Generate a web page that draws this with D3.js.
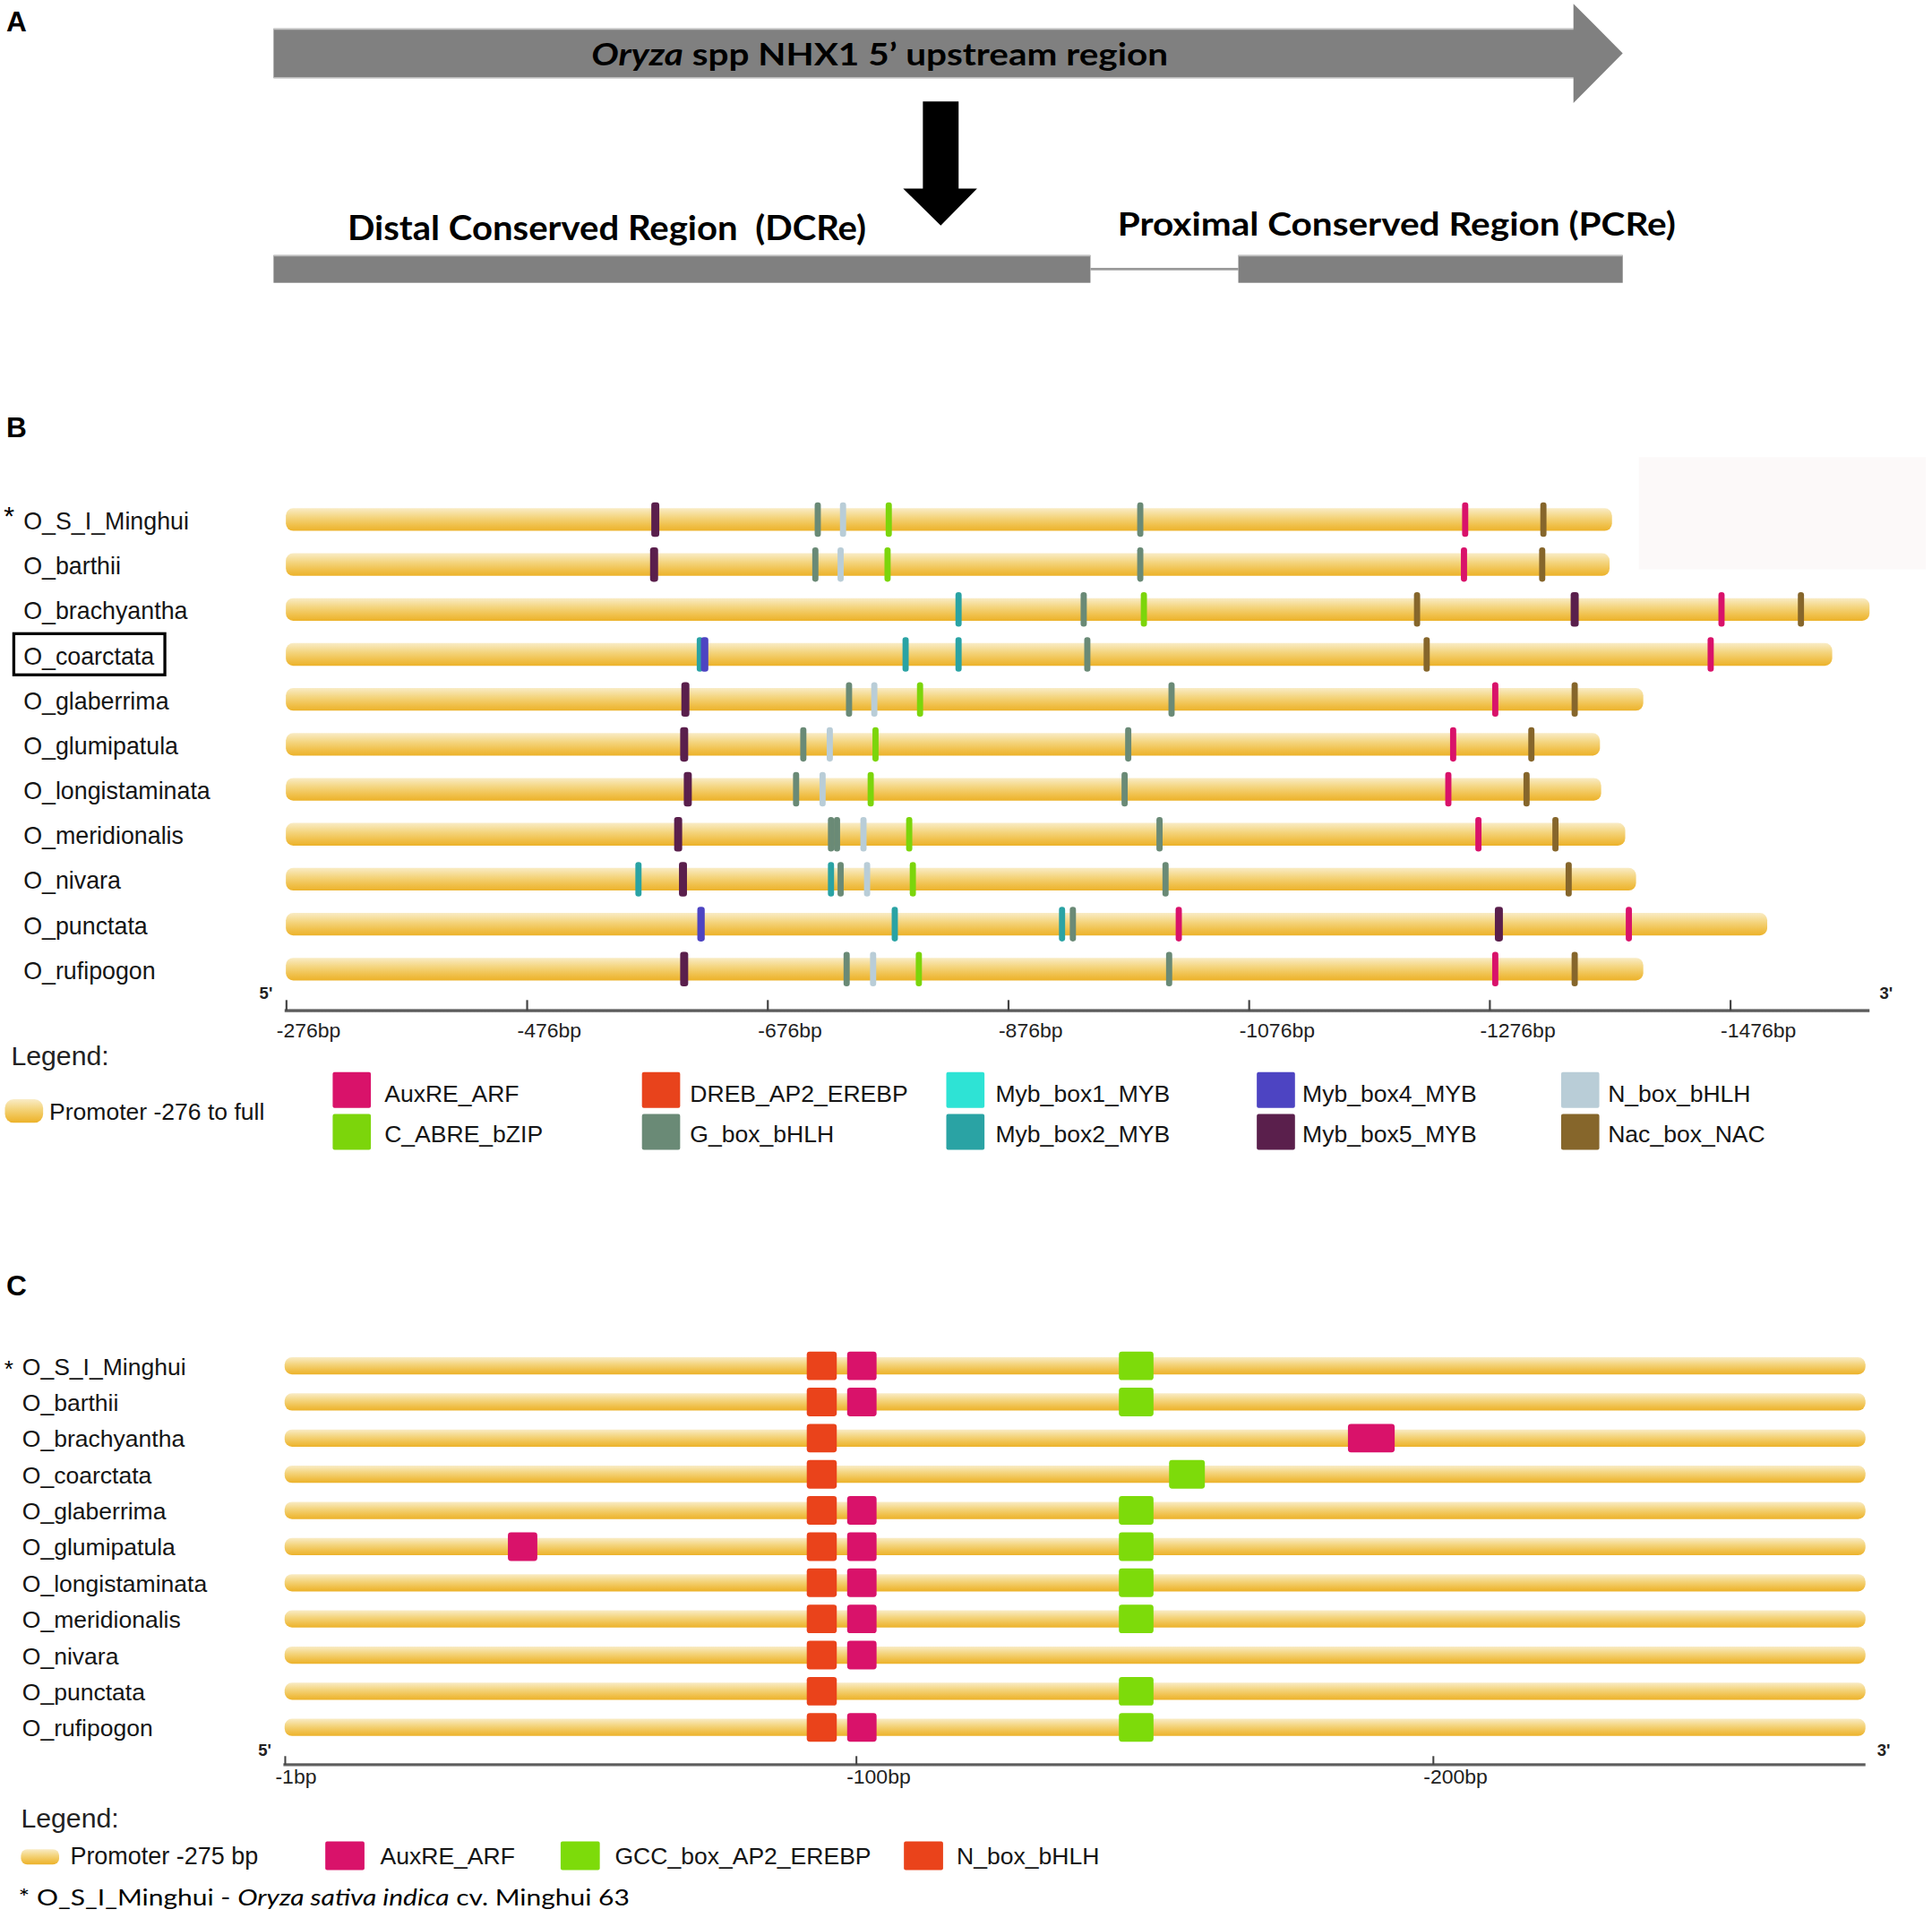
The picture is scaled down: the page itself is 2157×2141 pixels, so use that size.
<!DOCTYPE html>
<html><head><meta charset="utf-8">
<script src="https://cdn.jsdelivr.net/npm/d3@7"></script>
<style>body{margin:0;background:#fff}svg{display:block}</style>
</head><body><svg id="c"></svg>
<script>
// ---------------- DATA ----------------
const species = ["O_S_I_Minghui","O_barthii","O_brachyantha","O_coarctata","O_glaberrima","O_glumipatula","O_longistaminata","O_meridionalis","O_nivara","O_punctata","O_rufipogon"];
// Panel B: promoter end positions (bp upstream, start -276)
const promoterStartB = 276;
const promoterEndB = [1378,1376,1592,1561,1404,1368,1369,1389,1398,1507,1404];
const axisEndB = 1592;
const ticksB = [276,476,676,876,1076,1276,1476];
const motifsB = ["AuxRE_ARF","C_ABRE_bZIP","DREB_AP2_EREBP","G_box_bHLH","Myb_box1_MYB","Myb_box2_MYB","Myb_box4_MYB","Myb_box5_MYB","N_box_bHLH","Nac_box_NAC"];
// [species index, motif, position bp]
const sitesB = [
 [0,"Myb_box5_MYB",583],[0,"G_box_bHLH",718],[0,"N_box_bHLH",739],[0,"C_ABRE_bZIP",777],[0,"G_box_bHLH",986],[0,"AuxRE_ARF",1256],[0,"Nac_box_NAC",1321],
 [1,"Myb_box5_MYB",582],[1,"G_box_bHLH",716],[1,"N_box_bHLH",737],[1,"C_ABRE_bZIP",776],[1,"G_box_bHLH",986],[1,"AuxRE_ARF",1255],[1,"Nac_box_NAC",1320],
 [2,"Myb_box2_MYB",835],[2,"G_box_bHLH",939],[2,"C_ABRE_bZIP",989],[2,"Nac_box_NAC",1216],[2,"Myb_box5_MYB",1347],[2,"AuxRE_ARF",1469],[2,"Nac_box_NAC",1535],
 [3,"Myb_box2_MYB",620],[3,"Myb_box4_MYB",624],[3,"Myb_box2_MYB",791],[3,"Myb_box2_MYB",835],[3,"G_box_bHLH",942],[3,"Nac_box_NAC",1224],[3,"AuxRE_ARF",1460],
 [4,"Myb_box5_MYB",608],[4,"G_box_bHLH",744],[4,"N_box_bHLH",765],[4,"C_ABRE_bZIP",803],[4,"G_box_bHLH",1012],[4,"AuxRE_ARF",1281],[4,"Nac_box_NAC",1347],
 [5,"Myb_box5_MYB",607],[5,"G_box_bHLH",706],[5,"N_box_bHLH",728],[5,"C_ABRE_bZIP",766],[5,"G_box_bHLH",976],[5,"AuxRE_ARF",1246],[5,"Nac_box_NAC",1311],
 [6,"Myb_box5_MYB",610],[6,"G_box_bHLH",700],[6,"N_box_bHLH",722],[6,"C_ABRE_bZIP",762],[6,"G_box_bHLH",973],[6,"AuxRE_ARF",1242],[6,"Nac_box_NAC",1307],
 [7,"Myb_box5_MYB",602],[7,"G_box_bHLH",729],[7,"G_box_bHLH",734],[7,"N_box_bHLH",756],[7,"C_ABRE_bZIP",794],[7,"G_box_bHLH",1002],[7,"AuxRE_ARF",1267],[7,"Nac_box_NAC",1331],
 [8,"Myb_box2_MYB",569],[8,"Myb_box5_MYB",606],[8,"Myb_box2_MYB",729],[8,"G_box_bHLH",737],[8,"N_box_bHLH",759],[8,"C_ABRE_bZIP",797],[8,"G_box_bHLH",1007],[8,"Nac_box_NAC",1342],
 [9,"Myb_box4_MYB",621],[9,"Myb_box2_MYB",782],[9,"Myb_box2_MYB",921],[9,"G_box_bHLH",930],[9,"AuxRE_ARF",1018],[9,"Myb_box5_MYB",1284],[9,"AuxRE_ARF",1392],
 [10,"Myb_box5_MYB",607],[10,"G_box_bHLH",742],[10,"N_box_bHLH",764],[10,"C_ABRE_bZIP",802],[10,"G_box_bHLH",1010],[10,"AuxRE_ARF",1281],[10,"Nac_box_NAC",1347]
];
// Panel C: promoter -275 bp
const promoterLenC = 275;
const ticksC = [1,100,200];
const motifsC = ["AuxRE_ARF","GCC_box_AP2_EREBP","N_box_bHLH"];
// [species index, motif, start bp, end bp]
const sitesC = [
 [0,"N_box_bHLH",91.5,96.7],[0,"AuxRE_ARF",98.5,103.6],[0,"GCC_box_AP2_EREBP",145.6,151.6],
 [1,"N_box_bHLH",91.5,96.7],[1,"AuxRE_ARF",98.5,103.6],[1,"GCC_box_AP2_EREBP",145.6,151.6],
 [2,"N_box_bHLH",91.5,96.7],[2,"AuxRE_ARF",185.3,193.4],
 [3,"N_box_bHLH",91.5,96.7],[3,"GCC_box_AP2_EREBP",154.3,160.5],
 [4,"N_box_bHLH",91.5,96.7],[4,"AuxRE_ARF",98.5,103.6],[4,"GCC_box_AP2_EREBP",145.6,151.6],
 [5,"AuxRE_ARF",39.7,44.8],[5,"N_box_bHLH",91.5,96.7],[5,"AuxRE_ARF",98.5,103.6],[5,"GCC_box_AP2_EREBP",145.6,151.6],
 [6,"N_box_bHLH",91.5,96.7],[6,"AuxRE_ARF",98.5,103.6],[6,"GCC_box_AP2_EREBP",145.6,151.6],
 [7,"N_box_bHLH",91.5,96.7],[7,"AuxRE_ARF",98.5,103.6],[7,"GCC_box_AP2_EREBP",145.6,151.6],
 [8,"N_box_bHLH",91.5,96.7],[8,"AuxRE_ARF",98.5,103.6],
 [9,"N_box_bHLH",91.5,96.7],[9,"GCC_box_AP2_EREBP",145.6,151.6],
 [10,"N_box_bHLH",91.5,96.7],[10,"AuxRE_ARF",98.5,103.6],[10,"GCC_box_AP2_EREBP",145.6,151.6]
];

// ---------------- STYLE ----------------
const colors = {
  AuxRE_ARF:"#d9126a", C_ABRE_bZIP:"#7cd50b", DREB_AP2_EREBP:"#e8431c", G_box_bHLH:"#6a8a76",
  Myb_box1_MYB:"#2ee3d5", Myb_box2_MYB:"#2aa3a4", Myb_box4_MYB:"#4d44c2", Myb_box5_MYB:"#5a1f4c",
  N_box_bHLH:"#b9cdd7", Nac_box_NAC:"#86662b", GCC_box_AP2_EREBP:"#7ddb0a", N_box_bHLH_C:"#ea431b"
};
const widthB = {Myb_box5_MYB:6.5, Myb_box4_MYB:6};
const SANS = "'Liberation Sans', Arial, sans-serif";
const CAL = "Lato, 'Open Sans', sans-serif";

const W = 1568, H = 2141*1568/2157;
const svg = d3.select("#c").attr("width",2157).attr("height",2141).attr("viewBox",`0 0 ${W} ${H}`);
svg.append("rect").attr("width",W).attr("height",H).attr("fill","#fff");

const defs = svg.append("defs");
const gr = defs.append("linearGradient").attr("id","prom").attr("x1",0).attr("y1",0).attr("x2",0).attr("y2",1);
[[0,"#f9ecc6"],[0.4,"#f4d57f"],[0.75,"#f0c04a"],[1,"#ecb22a"]].forEach(s=>gr.append("stop").attr("offset",s[0]).attr("stop-color",s[1]));
const ag = defs.append("linearGradient").attr("id","axg").attr("x1",0).attr("y1",0).attr("x2",0).attr("y2",1);
[[0,"#8a8a8a"],[0.5,"#4a4a4a"],[1,"#9a9a9a"]].forEach(s=>ag.append("stop").attr("offset",s[0]).attr("stop-color",s[1]));

function fitWidth(sel, target){
  const bb = sel.node().getBBox();
  const s = target/bb.width, x0 = bb.x;
  sel.attr("transform",`translate(${x0},0) scale(${s},1) translate(${-x0},0)`);
}

// ---------------- PANEL LETTERS ----------------
[["A",25.5],["B",355],["C",1051]].forEach(([t,y])=>{
  svg.append("text").attr("x",5).attr("y",y).attr("font-family",SANS).attr("font-weight","bold")
    .attr("font-size",23).attr("fill","#000").text(t);
});

// ---------------- PANEL A ----------------
const gA = svg.append("g");
const sx = d3.scaleLinear().domain([0,1]).range([222,1317]);
gA.append("path").attr("fill","#808080")
  .attr("d",`M${sx(0)},23 H1277 V3 L${sx(1)},43.3 L1277,83.6 V63.5 H${sx(0)} Z`);
gA.append("line").attr("x1",222).attr("x2",1277).attr("y1",23.6).attr("y2",23.6).attr("stroke","#c4c4c4").attr("stroke-width",1.2);
gA.append("line").attr("x1",222).attr("x2",1277).attr("y1",63).attr("y2",63).attr("stroke","#bcbcbc").attr("stroke-width",1);
const tA = gA.append("text").attr("x",480).attr("y",53.3).attr("font-family",CAL).attr("font-weight","bold").attr("font-size",25).attr("fill","#000");
tA.append("tspan").attr("font-style","italic").text("Oryza");
tA.append("tspan").text(" spp NHX1 5\u2019 upstream region");
fitWidth(tA,468);
gA.append("path").attr("fill","#000").attr("d","M749,82.4 H778 V153 H793 L763.5,183 L733,153 H749 Z");
const tD = gA.append("text").attr("x",282).attr("y",195).attr("font-family",CAL).attr("font-weight","bold").attr("font-size",28).attr("fill","#000").style("white-space","pre").text("Distal Conserved Region  (DCRe)");
fitWidth(tD,421);
const tP = gA.append("text").attr("x",907).attr("y",191.4).attr("font-family",CAL).attr("font-weight","bold").attr("font-size",27).attr("fill","#000").text("Proximal Conserved Region (PCRe)");
fitWidth(tP,453);
gA.append("rect").attr("x",222).attr("y",207).attr("width",885-222).attr("height",22.5).attr("fill","#808080");
gA.append("line").attr("x1",885).attr("x2",1005).attr("y1",218.3).attr("y2",218.3).attr("stroke","#9a9a9a").attr("stroke-width",2);
gA.append("rect").attr("x",1005).attr("y",207).attr("width",1317-1005).attr("height",22.5).attr("fill","#808080");
gA.append("line").attr("x1",222).attr("x2",885).attr("y1",207.5).attr("y2",207.5).attr("stroke","#bdbdbd").attr("stroke-width",1);
gA.append("line").attr("x1",1005).attr("x2",1317).attr("y1",207.5).attr("y2",207.5).attr("stroke","#bdbdbd").attr("stroke-width",1);

// ---------------- PANEL B ----------------
svg.append("rect").attr("x",1330).attr("y",371).attr("width",233).attr("height",91).attr("fill","#fcf9f9");
const xB = d3.scaleLinear().domain([276,1476]).range([232,1404]);
const yB = d3.scalePoint().domain(d3.range(species.length)).range([421.6,786.4]);
const gB = svg.append("g");
const barHB = 18.4;
gB.selectAll("rect.prom").data(promoterEndB).join("rect").attr("class","prom")
  .attr("x",xB(promoterStartB)).attr("y",(d,i)=>yB(i)-barHB/2)
  .attr("width",d=>xB(d)-xB(promoterStartB)).attr("height",barHB).attr("rx",6).attr("fill","url(#prom)");
gB.selectAll("rect.site").data(sitesB).join("rect").attr("class","site")
  .attr("x",d=>xB(d[2])-(widthB[d[1]]||5)/2).attr("y",d=>yB(d[0])-14)
  .attr("width",d=>widthB[d[1]]||5).attr("height",28).attr("rx",2.4).attr("fill",d=>colors[d[1]]);
gB.selectAll("text.lab").data(species).join("text").attr("class","lab")
  .attr("x",19).attr("y",(d,i)=>yB(i)+8).attr("font-family",SANS).attr("font-size",19.5).attr("fill","#151515").text(d=>d);
gB.append("text").attr("x",3).attr("y",426).attr("font-family",SANS).attr("font-size",22).attr("fill","#000").text("*");
gB.append("rect").attr("x",11.2).attr("y",514.2).attr("width",122.6).attr("height",33.4).attr("fill","none").attr("stroke","#000").attr("stroke-width",2.4);
// axis B
const axB = gB.append("g").attr("transform","translate(0,820)")
  .call(d3.axisBottom(xB).tickValues(ticksB).tickSize(-8.5).tickSizeOuter(0).tickFormat(d=>`-${d}bp`));
axB.select(".domain").remove();
axB.insert("rect",":first-child").attr("x",xB(promoterStartB)-1).attr("y",-1.3).attr("width",xB(axisEndB)-xB(promoterStartB)+1).attr("height",2.8).attr("fill","url(#axg)");
axB.selectAll(".tick line").attr("stroke","#444").attr("stroke-width",1.6);
axB.selectAll(".tick text").attr("text-anchor","start").attr("x",-8).attr("y",22).attr("dy",0)
  .attr("font-family",SANS).attr("font-size",16.7).attr("fill","#222");
gB.append("text").attr("x",210.5).attr("y",810.5).attr("font-family",SANS).attr("font-weight","bold").attr("font-size",13.5).attr("fill","#222").text("5'");
gB.append("text").attr("x",1525.5).attr("y",810.5).attr("font-family",SANS).attr("font-weight","bold").attr("font-size",13.5).attr("fill","#222").text("3'");
// legend B
gB.append("text").attr("x",9).attr("y",864).attr("font-family",SANS).attr("font-size",22).attr("fill","#222").text("Legend:");
gB.append("rect").attr("x",4).attr("y",892).attr("width",31).attr("height",19).attr("rx",7).attr("fill","url(#prom)");
gB.append("text").attr("x",40).attr("y",909).attr("font-family",SANS).attr("font-size",19.3).attr("fill","#151515").text("Promoter -276 to full");
const legColX = [270,521,768,1020,1267], legTxtX = [312,560,808,1057,1305];
const legB = gB.selectAll("g.leg").data(motifsB).join("g").attr("class","leg");
legB.append("rect").attr("x",(d,i)=>legColX[Math.floor(i/2)]).attr("y",(d,i)=>i%2?904:870)
  .attr("width",31).attr("height",29).attr("rx",1.5).attr("fill",d=>colors[d]);
legB.append("text").attr("x",(d,i)=>legTxtX[Math.floor(i/2)]).attr("y",(d,i)=>i%2?927:894)
  .attr("font-family",SANS).attr("font-size",19.3).attr("fill","#151515").text(d=>d);

// ---------------- PANEL C ----------------
const xC = d3.scaleLinear().domain([1,promoterLenC]).range([231,1514]);
const yC = d3.scalePoint().domain(d3.range(species.length)).range([1108.3,1401.7]);
const gC = svg.append("g");
const barHC = 14;
gC.selectAll("rect.prom").data(species).join("rect").attr("class","prom")
  .attr("x",xC(1)).attr("y",(d,i)=>yC(i)-barHC/2).attr("width",xC(promoterLenC)-xC(1)).attr("height",barHC)
  .attr("rx",6).attr("fill","url(#prom)");
const colC = m => m==="N_box_bHLH" ? colors.N_box_bHLH_C : colors[m];
gC.selectAll("rect.site").data(sitesC).join("rect").attr("class","site")
  .attr("x",d=>xC(d[2])).attr("y",d=>yC(d[0])-11.6).attr("width",d=>xC(d[3])-xC(d[2])).attr("height",23.2)
  .attr("rx",2.5).attr("fill",d=>colC(d[1]));
gC.selectAll("text.lab").data(species).join("text").attr("class","lab")
  .attr("x",18).attr("y",(d,i)=>yC(i)+7.3).attr("font-family",SANS).attr("font-size",19.3).attr("fill","#151515").text(d=>d);
gC.append("text").attr("x",3.5).attr("y",1117.5).attr("font-family",SANS).attr("font-size",19).attr("fill","#000").text("*");
const axC = gC.append("g").attr("transform","translate(0,1432)")
  .call(d3.axisBottom(xC).tickValues(ticksC).tickSize(-7).tickSizeOuter(0).tickFormat(d=>`-${d}bp`));
axC.select(".domain").remove();
axC.insert("rect",":first-child").attr("x",xC(1)-1).attr("y",-1.3).attr("width",xC(promoterLenC)-xC(1)+1).attr("height",2.6).attr("fill","url(#axg)");
axC.selectAll(".tick line").attr("stroke","#444").attr("stroke-width",1.5);
axC.selectAll(".tick text").attr("text-anchor","start").attr("x",-8).attr("y",15.5).attr("dy",0)
  .attr("font-family",SANS).attr("font-size",16.7).attr("fill","#222");
gC.append("text").attr("x",209.5).attr("y",1425).attr("font-family",SANS).attr("font-weight","bold").attr("font-size",13.5).attr("fill","#222").text("5'");
gC.append("text").attr("x",1523.5).attr("y",1425).attr("font-family",SANS).attr("font-weight","bold").attr("font-size",13.5).attr("fill","#222").text("3'");
// legend C
gC.append("text").attr("x",17).attr("y",1483).attr("font-family",SANS).attr("font-size",22).attr("fill","#222").text("Legend:");
gC.append("rect").attr("x",17).attr("y",1500.5).attr("width",31).attr("height",12.5).attr("rx",5).attr("fill","url(#prom)");
gC.append("text").attr("x",57).attr("y",1512.5).attr("font-family",SANS).attr("font-size",19.6).attr("fill","#151515").text("Promoter -275 bp");
const legCX = [264,455,733.6], legCT = [308.6,499,776.4];
const legC = gC.selectAll("g.leg").data(motifsC).join("g").attr("class","leg");
legC.append("rect").attr("x",(d,i)=>legCX[i]).attr("y",1494.3).attr("width",31.8).attr("height",23.2).attr("rx",1.5).attr("fill",d=>colC(d));
legC.append("text").attr("x",(d,i)=>legCT[i]).attr("y",1512.5).attr("font-family",SANS).attr("font-size",19.3).attr("fill","#151515").text(d=>d);
// footnote
const fn = gC.append("text").attr("x",15).attr("y",1546).attr("font-family",CAL).attr("font-size",18).attr("fill","#000");
fn.append("tspan").text("* O_S_I_Minghui - ");
fn.append("tspan").attr("font-style","italic").text("Oryza sativa indica");
fn.append("tspan").text(" cv. Minghui 63");
fitWidth(fn,496);
</script></body></html>
